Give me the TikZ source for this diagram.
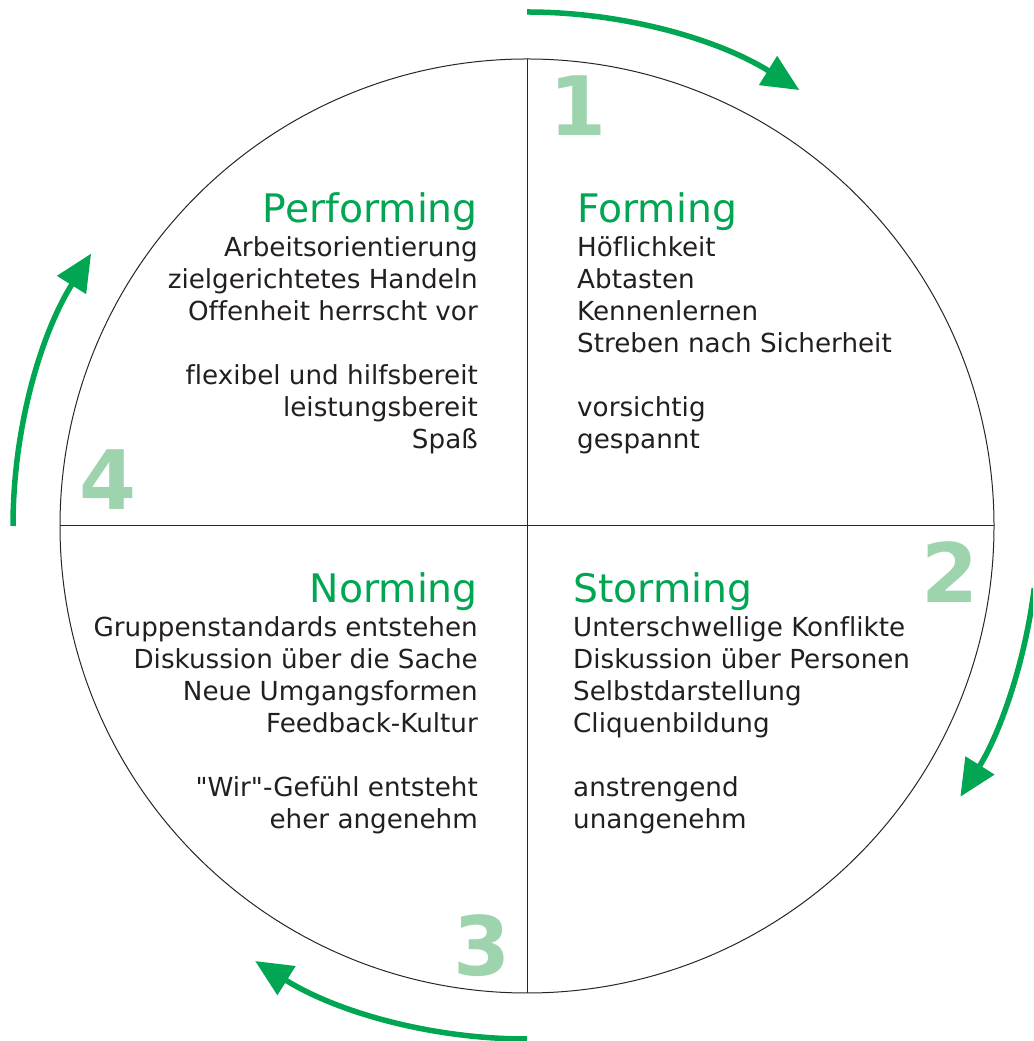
\documentclass[tikz,border=0pt]{standalone}
\usepackage{fontspec}
\setmainfont{DejaVu Sans}[Ligatures={TeXOff,NoCommon}]
\usetikzlibrary{arrows.meta,calc}
\definecolor{phasegreen}{HTML}{00A651}
\definecolor{numgreen}{HTML}{9DD4AE}
\definecolor{textgray}{HTML}{231F20}
\tikzset{
  phase/.style={text=phasegreen, font=\fontsize{39.3}{48}\selectfont, inner sep=0pt},
  item/.style={text=textgray, font=\fontsize{26.2}{32}\selectfont, inner sep=0pt},
  num/.style={text=numgreen, font=\fontsize{82}{90}\selectfont\bfseries, inner sep=0pt, anchor=base},
  cyclearrow/.style={draw=phasegreen, line width=5.5pt, -{Triangle[length=37pt,width=33pt]}}
}
\begin{document}
\begin{tikzpicture}[x=1pt, y=1pt, line join=round]
    \useasboundingbox (0,0) rectangle (1033,1041);
    \clip (0,0) rectangle (1033,1041);
    \path
    (527,515) coordinate (C)
    (C)+(0,467) coordinate (T)
    (C)+(0,-467) coordinate (B)
    (C)+(-467,0) coordinate (L)
    (C)+(467,0) coordinate (R);
    \draw[black!85, line width=1pt] (C) circle (467);
    \draw[black!85, line width=1pt] (T)--(B) (L)--(R);
    % the four arrows round the circle
    \foreach \s/\e/\r in {90/58/514, -7/-32/511, -90/-122/513, 180/148/514}
    \draw[cyclearrow] ($(C)+(\s:\r)$) arc[start angle=\s, end angle=\e, radius=\r];
    \foreach \n/\x/\y in {1/578/905, 2/950/438, 3/482/65, 4/108/531}
    \node[num] (n\n) at (\x,\y) {\n};
    % phases
    \node[phase, anchor=base west] (forming) at (577,818) {Forming};
    \node[phase, anchor=base east] (performing) at (478,818) {Performing};
    \node[phase, anchor=base west] (storming) at (573,438) {Storming};
    \node[phase, anchor=base east] (norming) at (478,438) {Norming};
    \foreach \t/\y [count=\i] in {Höflichkeit/784, Abtasten/752, Kennenlernen/720, Streben nach Sicherheit/688, vorsichtig/624, gespannt/592}
    \node[item, anchor=base west] (form\i) at (577,\y) {\t};
    \foreach \t/\y [count=\i] in {Arbeitsorientierung/784, zielgerichtetes Handeln/752, Offenheit herrscht vor/720, flexibel und hilfsbereit/656, leistungsbereit/624, Spaß/592}
    \node[item, anchor=base east] (perf\i) at (478,\y) {\t};
    \foreach \t/\y [count=\i] in {Unterschwellige Konflikte/404, Diskussion über Personen/372, Selbstdarstellung/340, Cliquenbildung/308, anstrengend/244, unangenehm/212}
    \node[item, anchor=base west] (storm\i) at (573,\y) {\t};
    \foreach \t/\y [count=\i] in {Gruppenstandards entstehen/404, Diskussion über die Sache/372, Neue Umgangsformen/340, Feedback-Kultur/308, "Wir"-Gefühl entsteht/244, eher angenehm/212}
    \node[item, anchor=base east] (norm\i) at (478,\y) {\t};
\end{tikzpicture}
\end{document}
